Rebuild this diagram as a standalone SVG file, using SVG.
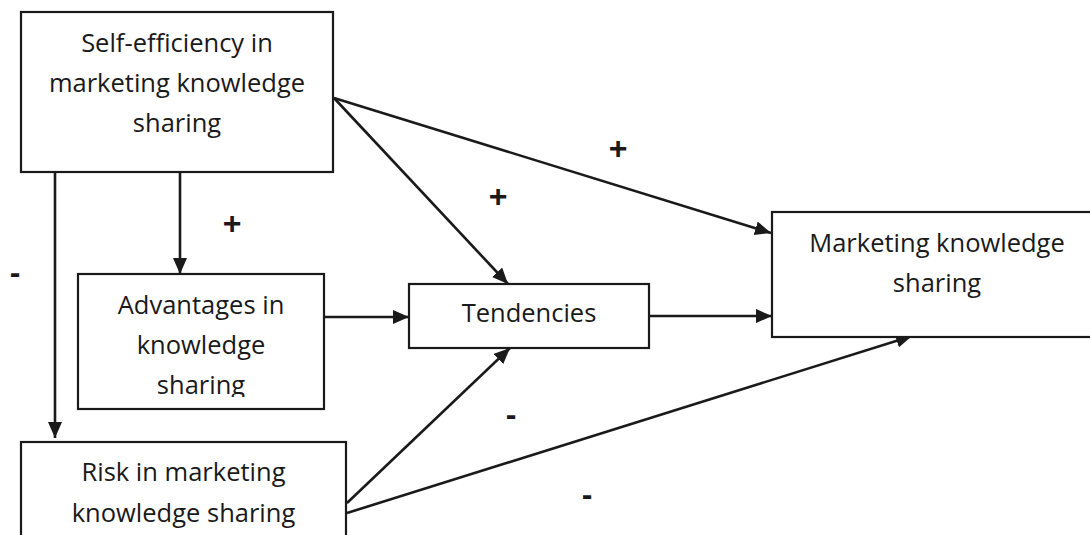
<svg xmlns="http://www.w3.org/2000/svg" width="1090" height="535" viewBox="0 0 1090 535">
<style>
.box{fill:#fff;stroke:#1a1a1a;stroke-width:2.2}
.t{font-family:"Open Sans","Liberation Sans",sans-serif;font-size:25.5px;fill:#1a1a1a;text-anchor:middle}
.c{stroke:#1a1a1a;stroke-width:2.6;fill:none;marker-end:url(#ah)}
.s{font-family:"Liberation Sans",Arial,sans-serif;font-weight:bold;font-size:32px;fill:#1a1a1a;text-anchor:middle}
</style>
<defs>
<marker id="ah" markerUnits="userSpaceOnUse" markerWidth="17" markerHeight="14" refX="16" refY="7" orient="auto">
<path d="M0,0 L16,7 L0,14 z" fill="#1a1a1a"/>
</marker>
<clipPath id="advclip"><rect x="78" y="274" width="246" height="123"/></clipPath>
</defs>
<rect width="1090" height="535" fill="#fff"/>
<g id="connectors">
<line class="c" x1="55" y1="172" x2="55" y2="438"/>
<line class="c" x1="180" y1="172" x2="180" y2="274"/>
<line class="c" x1="334" y1="98" x2="771" y2="233"/>
<line class="c" x1="334" y1="98" x2="508" y2="284"/>
<line class="c" x1="324" y1="317" x2="409" y2="317"/>
<line class="c" x1="649" y1="316" x2="772" y2="316"/>
<line class="c" x1="347" y1="503" x2="510" y2="348"/>
<line class="c" x1="347" y1="513" x2="912" y2="336"/>
</g>
<g id="n-self">
<rect class="box" x="21" y="12" width="312" height="160"/>
<text class="t" x="177" y="52">Self-efficiency in</text>
<text class="t" x="177" y="92">marketing knowledge</text>
<text class="t" x="177" y="132">sharing</text>
</g>
<g id="n-adv">
<rect class="box" x="78" y="274" width="246" height="135"/>
<g clip-path="url(#advclip)">
<text class="t" x="201" y="314">Advantages in</text>
<text class="t" x="201" y="354">knowledge</text>
<text class="t" x="201" y="394">sharing</text>
</g>
</g>
<g id="n-risk">
<rect class="box" x="21" y="442" width="325" height="110"/>
<text class="t" x="183.5" y="481">Risk in marketing</text>
<text class="t" x="183.5" y="522">knowledge sharing</text>
</g>
<g id="n-tend">
<rect class="box" x="409" y="284" width="240" height="64"/>
<text class="t" x="529" y="322">Tendencies</text>
</g>
<g id="n-mks">
<rect class="box" x="772" y="212" width="330" height="125"/>
<text class="t" x="937" y="252">Marketing knowledge</text>
<text class="t" x="937" y="292">sharing</text>
</g>
<g id="labels">
<text class="s" x="232" y="234">+</text>
<text class="s" x="498" y="207">+</text>
<text class="s" x="618" y="159">+</text>
<text class="s" x="15" y="283">-</text>
<text class="s" x="511" y="425">-</text>
<text class="s" x="587" y="505">-</text>
</g>
</svg>
